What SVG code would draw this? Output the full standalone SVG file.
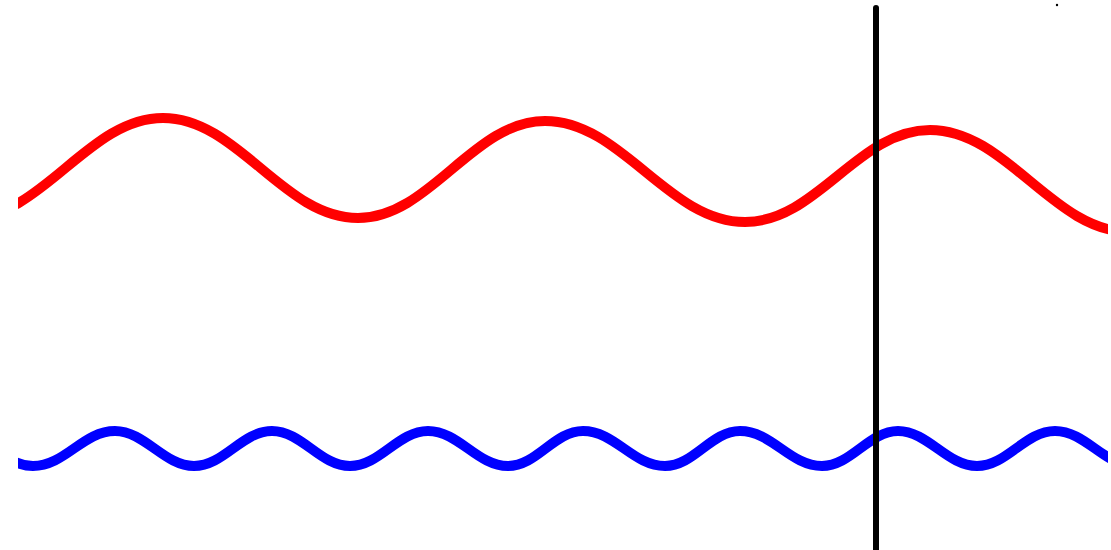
<svg xmlns="http://www.w3.org/2000/svg" width="1111" height="550" viewBox="0 0 1111 550">
  <style>
    .wave { fill: none; stroke-width: 10; stroke-linejoin: round; }
    .red { stroke: #ff0000; }
    .blue { stroke: #0000ff; }
    .marker { stroke: #000000; stroke-width: 6; stroke-linecap: round; }
  </style>
  <defs>
    <clipPath id="clip">
      <rect x="18" y="0" width="1090" height="550"/>
    </clipPath>
  </defs>
  <rect x="0" y="0" width="1111" height="550" fill="#ffffff"/>
  <g id="red-wave" clip-path="url(#clip)">
    <path class="wave red" d="M -32 218 C 43 218, 88 118, 163 118 C 238 118, 283 218, 358 218 C 430 218, 473 121, 545 121 C 622 121, 668 222, 745 222 C 817 222, 858 130, 930 130 C 1007 130, 1053 232, 1130 232"/>
  </g>
  <g id="blue-wave" clip-path="url(#clip)">
    <path class="wave blue" d="M -45 431 C -15 431, 3 466, 33 466 C 65 466, 83 431, 115 431 C 145 431, 164 466, 194 466 C 224 466, 242 431, 272 431 C 302 431, 320 466, 350 466 C 380 466, 398 431, 428 431 C 459 431, 477 466, 508 466 C 537 466, 554 431, 583 431 C 615 431, 633 466, 665 466 C 694 466, 711 431, 740 431 C 772 431, 790 466, 822 466 C 851 466, 869 431, 898 431 C 928 431, 947 466, 977 466 C 1007 466, 1025 431, 1055 431 C 1086 431, 1104 466, 1135 466"/>
  </g>
  <g id="cursor">
    <line class="marker" x1="876" y1="8" x2="876" y2="556"/>
  </g>
  <circle cx="1057" cy="5" r="1.2" fill="#000000"/>
</svg>
